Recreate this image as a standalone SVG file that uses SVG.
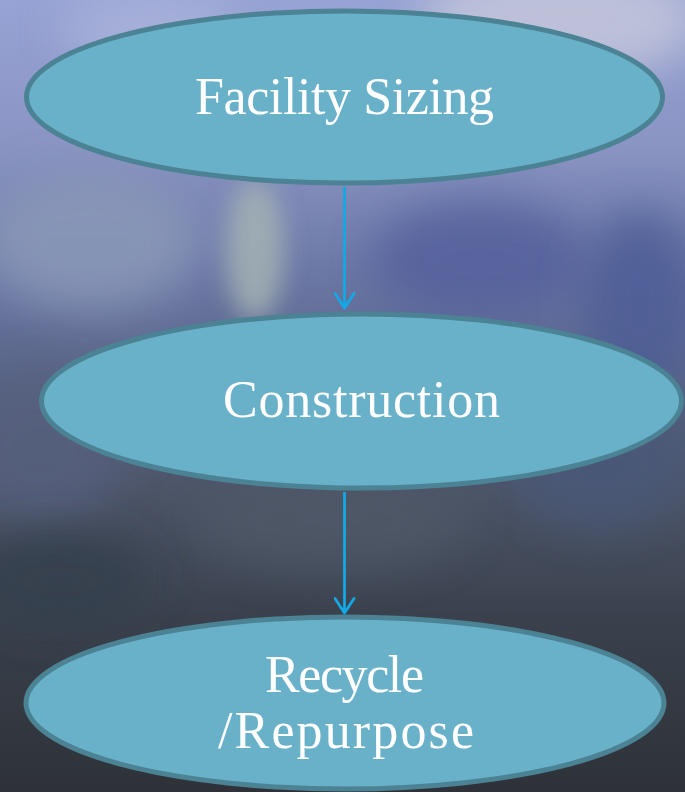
<svg xmlns="http://www.w3.org/2000/svg" width="685" height="792" viewBox="0 0 685 792">
  <defs>
    <linearGradient id="sky" x1="0" y1="0" x2="0" y2="1">
      <stop offset="0" stop-color="#97A3D4"/>
      <stop offset="0.18" stop-color="#8A95C4"/>
      <stop offset="0.34" stop-color="#6C78A6"/>
      <stop offset="0.48" stop-color="#5A6688"/>
      <stop offset="0.62" stop-color="#4D5568"/>
      <stop offset="0.78" stop-color="#3A414D"/>
      <stop offset="1" stop-color="#2E3238"/>
    </linearGradient>
    <filter id="soft" x="-50%" y="-50%" width="200%" height="200%">
      <feGaussianBlur stdDeviation="22"/>
    </filter>
    <filter id="softer" x="-50%" y="-50%" width="200%" height="200%">
      <feGaussianBlur stdDeviation="12"/>
    </filter>
    <marker id="arrow" markerUnits="userSpaceOnUse" markerWidth="20" markerHeight="22" refX="16" refY="11" orient="auto" viewBox="0 0 20 22">
      <path d="M1.5 1.5 L16 11 L1.5 20.5" fill="none" stroke="#13A9E6" stroke-width="2.8" stroke-linecap="round" stroke-linejoin="round"/>
    </marker>
    <style>
      .node ellipse { fill: #69B0C9; stroke: #4B8294; stroke-width: 5; }
      .node text { fill: #FFFFFF; font-family: "Liberation Serif", "Times New Roman", serif; font-size: 52px; text-anchor: middle; }
      .edge { stroke: #13A9E6; stroke-width: 2.8; fill: none; marker-end: url(#arrow); }
    </style>
  </defs>

  <!-- cloudy sky backdrop -->
  <rect x="0" y="0" width="685" height="792" fill="url(#sky)"/>
  <g opacity="0.85">
    <ellipse cx="560" cy="20" rx="140" ry="60" fill="#C4C6DA" filter="url(#soft)"/>
    <ellipse cx="150" cy="30" rx="90" ry="40" fill="#A9B2DA" filter="url(#soft)"/>
    <ellipse cx="255" cy="250" rx="30" ry="70" fill="#A4B2B4" filter="url(#softer)"/>
    <ellipse cx="90" cy="240" rx="110" ry="70" fill="#8A98B8" filter="url(#soft)"/>
    <ellipse cx="480" cy="260" rx="110" ry="60" fill="#55609C" filter="url(#soft)"/>
    <ellipse cx="640" cy="300" rx="60" ry="90" fill="#4E5D96" filter="url(#soft)"/>
    <ellipse cx="40" cy="450" rx="80" ry="80" fill="#56607E" filter="url(#soft)"/>
    <ellipse cx="600" cy="460" rx="90" ry="70" fill="#4A5878" filter="url(#soft)"/>
    <ellipse cx="330" cy="520" rx="140" ry="50" fill="#505868" filter="url(#soft)"/>
    <ellipse cx="60" cy="580" rx="90" ry="50" fill="#36404E" filter="url(#soft)"/>
  </g>

  <!-- connectors -->
  <g id="connectors">
    <line class="edge" x1="344.5" y1="187" x2="344.5" y2="308"/>
    <line class="edge" x1="344.5" y1="492" x2="344.5" y2="613"/>
  </g>

  <!-- nodes -->
  <g id="node-facility-sizing" class="node">
    <ellipse cx="344.5" cy="97" rx="318" ry="86"/>
    <text x="344.5" y="114" textLength="299">Facility Sizing</text>
  </g>
  <g id="node-construction" class="node">
    <ellipse cx="361.5" cy="401" rx="320" ry="87"/>
    <text x="361.5" y="417" textLength="277">Construction</text>
  </g>
  <g id="node-recycle-repurpose" class="node">
    <ellipse cx="345" cy="703" rx="319" ry="86"/>
    <text x="344.5" y="692" textLength="159">Recycle</text>
    <text x="346" y="748" textLength="256">/Repurpose</text>
  </g>
</svg>
